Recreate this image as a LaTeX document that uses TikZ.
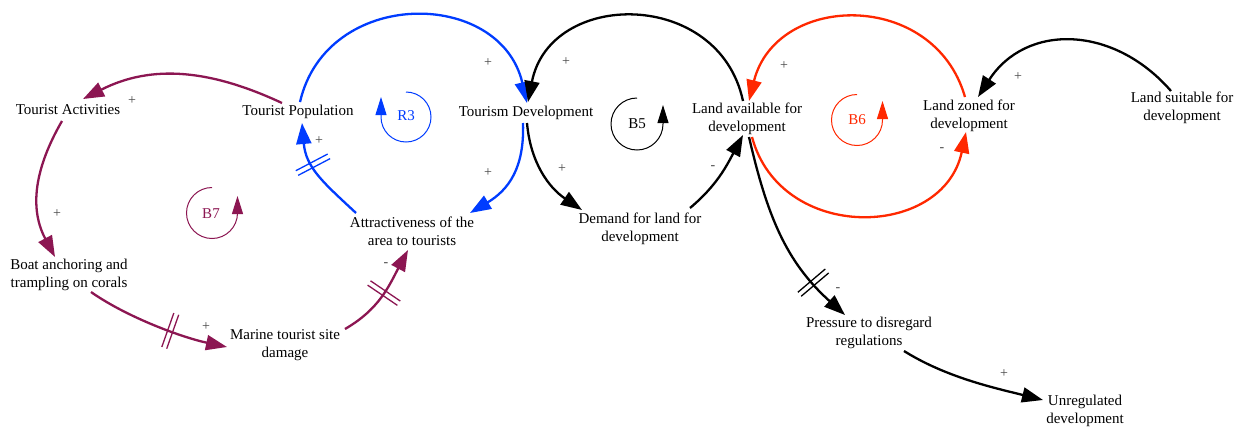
\documentclass[tikz,border=0pt]{standalone}
\usepackage{fontspec}
\setmainfont{Liberation Serif}
\usetikzlibrary{arrows.meta,decorations.markings}

\definecolor{cldblue}{RGB}{0,60,255}
\definecolor{cldpurple}{RGB}{140,22,82}
\definecolor{cldred}{RGB}{255,40,0}
\definecolor{polgray}{RGB}{70,70,70}

\tikzset{
  var/.style={font=\fontsize{15}{18}\selectfont, align=center, inner sep=1pt},
  link/.style={line width=2.3pt, -{Triangle[length=21pt,width=15pt]}},
  pol/.style={font=\fontsize{14}{16}\selectfont, text=polgray, inner sep=0pt},
  loopsym/.style={line width=1pt, -{Triangle[length=18pt,width=11pt]}},
  looplabel/.style={font=\fontsize{15}{18}\selectfont, inner sep=0pt},
  delay/.style={postaction={decorate, decoration={markings,
      mark=at position #1 with {\draw[-,line width=1.3pt] (-2.6,-18)--(-2.6,18) (2.6,-18)--(2.6,18);}}}}
}

\begin{document}
\begin{tikzpicture}[x=1pt,y=1pt]
\fill[white] (0,0) rectangle (1243,-429);
\useasboundingbox (0,0) rectangle (1243,-429);

% variables
\node[var] (ta) at (68,-110)   {Tourist Activities};
\node[var] (tp) at (298,-112)  {Tourist Population};
\node[var] (td) at (526,-113)  {Tourism Development};
\node[var] (la) at (747,-119)  {Land available for\\development};
\node[var] (lz) at (969,-116)  {Land zoned for\\development};
\node[var] (ls) at (1182,-108) {Land suitable for\\development};
\node[var] (at) at (412,-231)  {Attractiveness of the\\area to tourists};
\node[var] (dm) at (640,-229)  {Demand for land for\\development};
\node[var] (bo) at (69,-275)   {Boat anchoring and\\trampling on corals};
\node[var] (md) at (285,-345)  {Marine tourist site\\damage};
\node[var] (pr) at (869,-333)  {Pressure to disregard\\regulations};
\node[var] (ur) at (1085,-411) {Unregulated\\development};

% balancing loop B7 (purple)
\draw[link,cldpurple] ([shift={(-16,9)}]tp.center) to[out=155,in=27,distance=78pt] ([shift={(15,11)}]ta.center);
\draw[link,cldpurple] ([shift={(-6,-11)}]ta.center) to[out=240,in=118,distance=55pt] ([shift={(-14,18)}]bo.center);
\draw[link,cldpurple,delay=0.6] ([shift={(22,-17)}]bo.center) to[out=-35,in=168,distance=45pt] ([shift={(-58,-2)}]md.center);
\draw[link,cldpurple,delay=0.52] ([shift={(60,16)}]md.center) to[out=30,in=242,distance=40pt] ([shift={(-4,-19)}]at.center);

% reinforcing loop R3 (blue)
\draw[link,cldblue,delay=0.6] ([shift={(-56,18)}]at.center) to[out=137,in=-85,distance=45pt] ([shift={(4,-11)}]tp.center);
\draw[link,cldblue] ([shift={(2,10)}]tp.center) to[out=77,in=103,distance=118pt] ([shift={(1,10)}]td.center);
\draw[link,cldblue] ([shift={(-3,-10)}]td.center) to[out=-88,in=31,distance=45pt] ([shift={(58,18)}]at.center);

% balancing loop B5 and the regulation chain (black)
\draw[link] ([shift={(-4,18)}]la.center) to[out=102,in=79,distance=115pt] ([shift={(2,11)}]td.center);
\draw[link] ([shift={(1,-10)}]td.center) to[out=-85,in=146,distance=40pt] ([shift={(-58,19)}]dm.center);
\draw[link] ([shift={(50,21)}]dm.center) to[out=40,in=242,distance=35pt] ([shift={(-4,-16)}]la.center);
\draw[link,delay=0.78] ([shift={(2,-18)}]la.center) to[out=-77,in=138,distance=80pt] ([shift={(-24,18)}]pr.center);
\draw[link] ([shift={(-11,17)}]ls.center) to[out=131,in=57,distance=88pt] ([shift={(9,19)}]lz.center);
\draw[link] ([shift={(35,-18)}]pr.center) to[out=-32,in=166,distance=50pt] ([shift={(-42,11)}]ur.center);

% balancing loop B6 (red)
\draw[link,cldred] ([shift={(-4,19)}]lz.center) to[out=106,in=76,distance=112pt] ([shift={(2,18)}]la.center);
\draw[link,cldred] ([shift={(5,-18)}]la.center) to[out=-75,in=-102,distance=110pt] ([shift={(-3,-16)}]lz.center);

% link polarities
\node[pol] (p1)  at (132,-101)  {+};
\node[pol] (p2)  at (57,-214)   {+};
\node[pol] (p3)  at (206,-327)  {+};
\node[pol] (p4)  at (386,-265)  {-};
\node[pol] (p5)  at (319,-141)  {+};
\node[pol] (p6)  at (488,-63)   {+};
\node[pol] (p7)  at (488,-173)  {+};
\node[pol] (p8)  at (566,-62)   {+};
\node[pol] (p9)  at (562,-169)  {+};
\node[pol] (p10) at (713,-168)  {-};
\node[pol] (p11) at (838,-290)  {-};
\node[pol] (p12) at (1018,-77)  {+};
\node[pol] (p13) at (1004,-374) {+};
\node[pol] (p14) at (784,-66)   {+};
\node[pol] (p15) at (942,-150)  {-};

% loop identifiers
\draw[loopsym,cldblue] (406,-92) arc[start angle=90,end angle=-180,radius=25] -- ++(0,20);
\node[looplabel,text=cldblue] (r3) at (406,-116) {R3};
\draw[loopsym] (637,-98) arc[start angle=90,end angle=360,radius=26] -- ++(0,19);
\node[looplabel] (b5) at (637,-124) {B5};
\draw[loopsym,cldred] (857,-94.5) arc[start angle=90,end angle=360,radius=25.5] -- ++(0,19);
\node[looplabel,text=cldred] (b6) at (857,-120) {B6};
\draw[loopsym,cldpurple] (212,-187.5) arc[start angle=90,end angle=360,radius=25.5] -- ++(0,17);
\node[looplabel,text=cldpurple] (b7) at (211,-214) {B7};
\end{tikzpicture}
\end{document}
